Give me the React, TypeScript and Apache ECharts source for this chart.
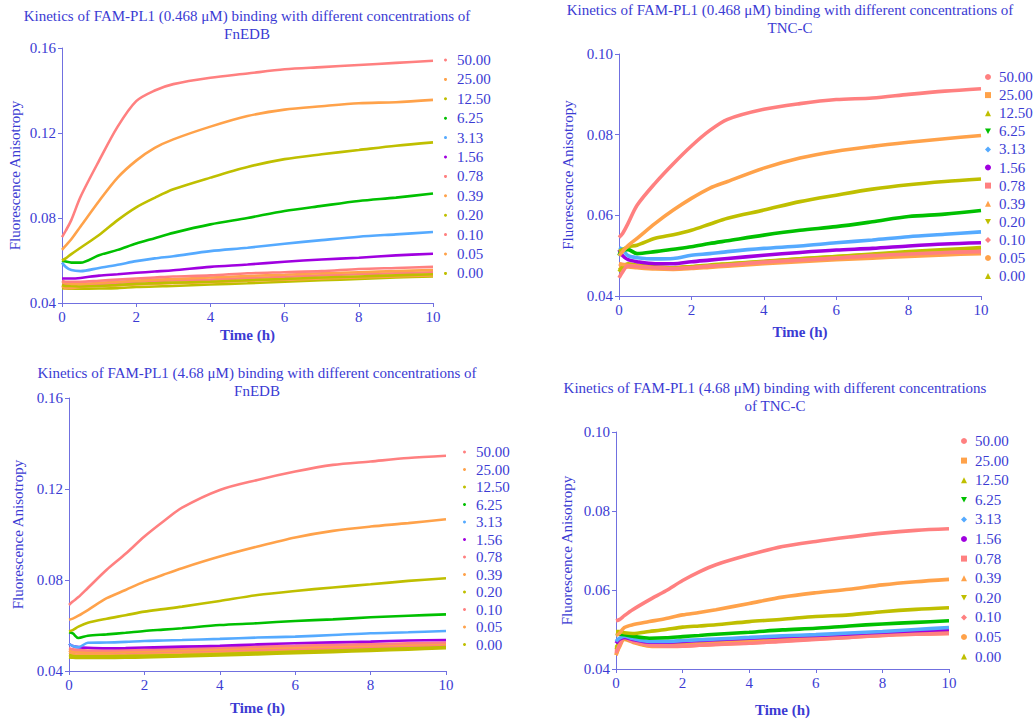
import React, { useEffect, useRef } from "react";
import * as echarts from "echarts";

// Time points (h)
const T = [0, 0.1, 0.25, 0.5, 1, 1.5, 2, 2.5, 3, 4, 5, 6, 7, 8, 9, 10];

// Concentration labels (legend)
const CONC = ["50.00", "25.00", "12.50", "6.25", "3.13", "1.56", "0.78", "0.39", "0.20", "0.10", "0.05", "0.00"];

// Panel 1: FAM-PL1 (0.468 uM) + FnEDB
const FNEDB_0468 = [
  [0.071, 0.074, 0.079, 0.090, 0.107, 0.123, 0.135, 0.140, 0.143, 0.146, 0.148, 0.150, 0.151, 0.152, 0.153, 0.154],
  [0.065, 0.067, 0.070, 0.076, 0.088, 0.099, 0.107, 0.113, 0.117, 0.123, 0.128, 0.131, 0.1326, 0.134, 0.1345, 0.1356],
  [0.060, 0.061, 0.063, 0.066, 0.072, 0.079, 0.085, 0.0895, 0.0935, 0.099, 0.104, 0.1077, 0.110, 0.112, 0.114, 0.1156],
  [0.060, 0.0595, 0.059, 0.059, 0.0625, 0.065, 0.068, 0.0705, 0.073, 0.077, 0.080, 0.0833, 0.0857, 0.088, 0.0896, 0.0915],
  [0.059, 0.057, 0.0555, 0.055, 0.0565, 0.058, 0.0597, 0.061, 0.062, 0.0644, 0.066, 0.0679, 0.0696, 0.0712, 0.0723, 0.0734],
  [0.0515, 0.0515, 0.0515, 0.0518, 0.0529, 0.0535, 0.0542, 0.0548, 0.0554, 0.057, 0.0581, 0.0594, 0.0605, 0.0613, 0.0624, 0.0632],
  [0.0505, 0.050, 0.050, 0.050, 0.0505, 0.051, 0.0515, 0.052, 0.0525, 0.053, 0.054, 0.0545, 0.055, 0.056, 0.0565, 0.057],
  [0.050, 0.0495, 0.049, 0.049, 0.0495, 0.050, 0.0505, 0.051, 0.0513, 0.052, 0.0527, 0.0533, 0.054, 0.0545, 0.055, 0.0555],
  [0.0485, 0.048, 0.048, 0.0478, 0.048, 0.0485, 0.049, 0.0493, 0.0496, 0.050, 0.0507, 0.0513, 0.052, 0.0525, 0.053, 0.0535],
  [0.049, 0.0488, 0.0487, 0.0487, 0.049, 0.0495, 0.050, 0.0503, 0.0506, 0.051, 0.0517, 0.0523, 0.053, 0.0535, 0.054, 0.0545],
  [0.048, 0.047, 0.047, 0.0475, 0.048, 0.0483, 0.0487, 0.049, 0.0493, 0.0498, 0.0505, 0.051, 0.0515, 0.052, 0.0525, 0.053],
  [0.047, 0.0468, 0.0467, 0.0467, 0.0468, 0.047, 0.0475, 0.0478, 0.048, 0.0487, 0.0493, 0.050, 0.0507, 0.0513, 0.052, 0.0525],
];

// Panel 2: FAM-PL1 (0.468 uM) + TNC-C
const TNCC_0468 = [
  [0.0545, 0.0555, 0.058, 0.0625, 0.068, 0.0728, 0.0772, 0.081, 0.0838, 0.0863, 0.0877, 0.0887, 0.0891, 0.090, 0.0908, 0.0914],
  [0.050, 0.051, 0.0525, 0.0543, 0.058, 0.0613, 0.0642, 0.0667, 0.0684, 0.0717, 0.0742, 0.0759, 0.0771, 0.0781, 0.079, 0.0798],
  [0.051, 0.0515, 0.0522, 0.0526, 0.0543, 0.0552, 0.0563, 0.0578, 0.0593, 0.0613, 0.0634, 0.065, 0.0665, 0.0676, 0.0684, 0.069],
  [0.050, 0.0515, 0.0515, 0.0505, 0.051, 0.0516, 0.0522, 0.053, 0.0537, 0.0551, 0.0563, 0.0572, 0.0584, 0.0597, 0.0603, 0.0612],
  [0.052, 0.0515, 0.050, 0.0495, 0.0492, 0.0493, 0.0501, 0.0505, 0.051, 0.0518, 0.0524, 0.0532, 0.0539, 0.0547, 0.0553, 0.0559],
  [0.0515, 0.050, 0.049, 0.0485, 0.048, 0.048, 0.0485, 0.0489, 0.0493, 0.0501, 0.0508, 0.0514, 0.0518, 0.0524, 0.0529, 0.0532],
  [0.0445, 0.046, 0.0475, 0.0473, 0.047, 0.0468, 0.047, 0.0474, 0.0477, 0.0484, 0.0489, 0.0494, 0.050, 0.0504, 0.0508, 0.051],
  [0.048, 0.0478, 0.0476, 0.0474, 0.047, 0.0468, 0.047, 0.0473, 0.0476, 0.0482, 0.0488, 0.0494, 0.0499, 0.0503, 0.0507, 0.051],
  [0.046, 0.0472, 0.048, 0.0476, 0.0472, 0.047, 0.0473, 0.0477, 0.048, 0.0486, 0.0492, 0.0498, 0.0504, 0.051, 0.0515, 0.052],
  [0.048, 0.0478, 0.0478, 0.0476, 0.0472, 0.047, 0.0472, 0.0475, 0.0478, 0.0485, 0.049, 0.0495, 0.050, 0.0505, 0.0508, 0.0512],
  [0.047, 0.047, 0.0472, 0.047, 0.0467, 0.0466, 0.0468, 0.0471, 0.0474, 0.048, 0.0485, 0.049, 0.0494, 0.0498, 0.0502, 0.0505],
  [0.0465, 0.047, 0.0475, 0.0474, 0.047, 0.0469, 0.0472, 0.0475, 0.0479, 0.0485, 0.0492, 0.0498, 0.0503, 0.0508, 0.0512, 0.0515],
];

// Panel 3: FAM-PL1 (4.68 uM) + FnEDB
const FNEDB_468 = [
  [0.069, 0.0705, 0.0725, 0.0765, 0.0845, 0.0915, 0.0991, 0.1057, 0.1118, 0.1196, 0.124, 0.1277, 0.1306, 0.1321, 0.1336, 0.1346],
  [0.0625, 0.063, 0.0643, 0.0668, 0.072, 0.0756, 0.0793, 0.0823, 0.0852, 0.0903, 0.0947, 0.0987, 0.1016, 0.1035, 0.105, 0.1067],
  [0.0575, 0.058, 0.0595, 0.0612, 0.063, 0.0645, 0.0661, 0.0672, 0.0683, 0.0708, 0.0734, 0.0752, 0.0767, 0.0781, 0.0796, 0.0808],
  [0.057, 0.0565, 0.0545, 0.0555, 0.0561, 0.0568, 0.0576, 0.0582, 0.0588, 0.0602, 0.061, 0.062, 0.0627, 0.0636, 0.0643, 0.0649],
  [0.052, 0.051, 0.0505, 0.0524, 0.0525, 0.0528, 0.0532, 0.0534, 0.0536, 0.0541, 0.0547, 0.0551, 0.0558, 0.0566, 0.057, 0.0576],
  [0.052, 0.051, 0.0505, 0.0502, 0.050, 0.0501, 0.0503, 0.0505, 0.0507, 0.0511, 0.0517, 0.0522, 0.0526, 0.0529, 0.0534, 0.0536],
  [0.050, 0.0495, 0.0492, 0.049, 0.049, 0.0492, 0.0494, 0.0496, 0.0498, 0.0502, 0.0507, 0.0511, 0.0515, 0.0518, 0.0522, 0.0525],
  [0.049, 0.0485, 0.0483, 0.0482, 0.0482, 0.0484, 0.0486, 0.0488, 0.049, 0.0495, 0.050, 0.0504, 0.0508, 0.0512, 0.0516, 0.052],
  [0.047, 0.0466, 0.0465, 0.0465, 0.0465, 0.0466, 0.0467, 0.0469, 0.047, 0.0475, 0.048, 0.0485, 0.049, 0.0495, 0.050, 0.0505],
  [0.049, 0.0485, 0.0482, 0.048, 0.048, 0.0481, 0.0483, 0.0485, 0.0487, 0.049, 0.0494, 0.0498, 0.0501, 0.0504, 0.0507, 0.051],
  [0.048, 0.0475, 0.0472, 0.0472, 0.0472, 0.0473, 0.0475, 0.0477, 0.0479, 0.0483, 0.0488, 0.0493, 0.0498, 0.0503, 0.0509, 0.0515],
  [0.046, 0.0458, 0.0457, 0.0457, 0.0457, 0.0458, 0.046, 0.0462, 0.0464, 0.0468, 0.0473, 0.0478, 0.0483, 0.0488, 0.0494, 0.050],
];

// Panel 4: FAM-PL1 (4.68 uM) + TNC-C
const TNCC_468 = [
  [0.0522, 0.0525, 0.0535, 0.055, 0.0575, 0.0598, 0.0624, 0.0646, 0.0664, 0.0689, 0.071, 0.0723, 0.0734, 0.0744, 0.0751, 0.0755],
  [0.0485, 0.049, 0.0505, 0.0512, 0.052, 0.0528, 0.0537, 0.0543, 0.055, 0.0566, 0.0582, 0.0593, 0.0602, 0.0613, 0.0621, 0.0627],
  [0.0495, 0.0495, 0.0492, 0.049, 0.0495, 0.050, 0.0506, 0.0509, 0.0512, 0.052, 0.0526, 0.0533, 0.0537, 0.0545, 0.0551, 0.0555],
  [0.049, 0.0488, 0.0487, 0.0483, 0.0478, 0.0479, 0.0482, 0.0485, 0.0488, 0.0493, 0.0499, 0.0503, 0.0509, 0.0514, 0.0518, 0.0522],
  [0.047, 0.0478, 0.0483, 0.0477, 0.047, 0.047, 0.0472, 0.0474, 0.0476, 0.048, 0.0484, 0.0487, 0.0491, 0.0495, 0.050, 0.0505],
  [0.0465, 0.0475, 0.048, 0.0475, 0.0468, 0.0468, 0.047, 0.0472, 0.0474, 0.0478, 0.0482, 0.0485, 0.0489, 0.0493, 0.0497, 0.050],
  [0.044, 0.046, 0.048, 0.047, 0.046, 0.0458, 0.0458, 0.046, 0.0462, 0.0465, 0.047, 0.0475, 0.048, 0.0485, 0.0488, 0.049],
  [0.0435, 0.0458, 0.048, 0.047, 0.046, 0.046, 0.046, 0.0462, 0.0465, 0.047, 0.0474, 0.0478, 0.0483, 0.0487, 0.0491, 0.0495],
  [0.045, 0.0465, 0.0478, 0.047, 0.046, 0.046, 0.046, 0.0462, 0.0465, 0.047, 0.0475, 0.048, 0.0485, 0.049, 0.0494, 0.0497],
  [0.0445, 0.046, 0.048, 0.0472, 0.0463, 0.0462, 0.0462, 0.0463, 0.0465, 0.0468, 0.0473, 0.0477, 0.0482, 0.0487, 0.0491, 0.0494],
  [0.0435, 0.0455, 0.0475, 0.0468, 0.0458, 0.0457, 0.0458, 0.046, 0.0462, 0.0466, 0.0471, 0.0476, 0.048, 0.0485, 0.0488, 0.049],
  [0.0455, 0.0465, 0.0478, 0.0472, 0.0462, 0.0461, 0.0461, 0.0463, 0.0465, 0.047, 0.0475, 0.0479, 0.0484, 0.0489, 0.0493, 0.0496],
];

const TITLES = [
  "Kinetics of FAM-PL1 (0.468 μM) binding with different concentrations of\nFnEDB",
  "Kinetics of FAM-PL1 (0.468 μM) binding with different concentrations of\nTNC-C",
  "Kinetics of FAM-PL1 (4.68 μM) binding with different concentrations of\nFnEDB",
  "Kinetics of FAM-PL1 (4.68 μM) binding with different concentrations\nof TNC-C",
];

const Y_RANGES = [
  [0.04, 0.16, 0.04],
  [0.04, 0.10, 0.02],
  [0.04, 0.16, 0.04],
  [0.04, 0.10, 0.02],
];

const COLORS = ["#ff8080", "#ffa24a", "#bfbf00", "#00c000", "#55aaff", "#a000e0", "#ff8080", "#ffa24a", "#bfbf00", "#ff8080", "#ffa24a", "#bfbf00"];
const DOWN_TRI = "path://M0,0L10,0L5,9Z";
const ICONS_TNC = ["circle", "rect", "triangle", DOWN_TRI, "diamond", "circle", "rect", "triangle", DOWN_TRI, "diamond", "circle", "triangle"];

const TEXT = "#3b3bd3";
const AXIS = "#7070e0";
const FONT = "Liberation Serif";

// layout per panel
const LAYOUT = [
  { grid: { left: 62, top: 48, width: 371, height: 255 }, title: { x: 247, y: 7 }, legend: { left: 444, top: 52.5, gap: 4.4, icon: 3 }, xGap: 24, yGap: 40, lw: 2.6 },
  { grid: { left: 619, top: 54, width: 362, height: 242 }, title: { x: 790, y: 1 }, legend: { left: 985, top: 69.5, gap: 3.1, icon: 6 }, xGap: 28, yGap: 44, lw: 3.6 },
  { grid: { left: 69, top: 398, width: 377, height: 273 }, title: { x: 257, y: 364 }, legend: { left: 463, top: 444.5, gap: 2.5, icon: 3 }, xGap: 29, yGap: 44, lw: 2.6 },
  { grid: { left: 616, top: 432, width: 333, height: 237 }, title: { x: 775, y: 379 }, legend: { left: 961, top: 433.5, gap: 4.6, icon: 6 }, xGap: 33, yGap: 42, lw: 3.6 },
];

const PANELS = [FNEDB_0468, TNCC_0468, FNEDB_468, TNCC_468];

function buildOption() {
  const grid: any[] = [];
  const xAxis: any[] = [];
  const yAxis: any[] = [];
  const legend: any[] = [];
  const series: any[] = [];
  const graphic: any[] = [];

  PANELS.forEach((panel, p) => {
    const L = LAYOUT[p];
    grid.push({ ...L.grid, containLabel: false });
    const axisCommon = {
      axisLine: { show: true, lineStyle: { color: AXIS, width: 1 } },
      axisTick: { show: true, length: 4, lineStyle: { color: AXIS } },
      splitLine: { show: false },
    };
    xAxis.push({
      ...axisCommon,
      type: "value",
      gridIndex: p,
      min: 0,
      max: 10,
      interval: 2,
      name: "Time (h)",
      nameLocation: "middle",
      nameGap: L.xGap,
      nameTextStyle: { color: TEXT, fontFamily: FONT, fontSize: 15, fontWeight: "bold" },
      axisLabel: { color: TEXT, fontFamily: FONT, fontSize: 15, margin: 6 },
    });
    const [ymin, ymax, yint] = Y_RANGES[p];
    yAxis.push({
      ...axisCommon,
      type: "value",
      gridIndex: p,
      min: ymin,
      max: ymax,
      interval: yint,
      name: "Fluorescence Anisotropy",
      nameLocation: "middle",
      nameRotate: 90,
      nameGap: L.yGap,
      nameTextStyle: { color: TEXT, fontFamily: FONT, fontSize: 15 },
      axisLabel: {
        color: TEXT,
        fontFamily: FONT,
        fontSize: 15,
        margin: 6,
        formatter: (v: number) => v.toFixed(2),
      },
    });

    const isTnc = p === 1 || p === 3;
    const legendData: any[] = [];
    panel.forEach((vals, i) => {
      const name = `${p}|${CONC[i]}`;
      legendData.push({ name, icon: isTnc ? ICONS_TNC[i] : "circle" });
      series.push({
        type: "line",
        name,
        xAxisIndex: p,
        yAxisIndex: p,
        data: T.map((t, k) => [t, vals[k]]),
        smooth: 0.3,
        showSymbol: false,
        symbol: isTnc ? ICONS_TNC[i] : "circle",
        color: COLORS[i],
        lineStyle: { color: COLORS[i], width: L.lw },
        silent: true,
        z: 2 + (11 - i) * 0.01,
      });
    });
    legend.push({
      orient: "vertical",
      left: L.legend.left,
      top: L.legend.top,
      itemWidth: L.legend.icon,
      itemHeight: L.legend.icon,
      itemGap: L.legend.gap,
      padding: 0,
      selectedMode: false,
      data: legendData,
      formatter: (n: string) => n.split("|")[1],
      textStyle: { color: TEXT, fontFamily: FONT, fontSize: 15, lineHeight: 15, padding: [0, 0, 0, isTnc ? 3 : 5] },
    });

    graphic.push({
      type: "text",
      x: L.title.x,
      y: L.title.y,
      style: {
        text: TITLES[p],
        fill: TEXT,
        fontFamily: FONT,
        fontSize: 15,
        textAlign: "center",
        textVerticalAlign: "top",
        lineHeight: 18,
      },
    });
  });

  return {
    animation: false,
    backgroundColor: "#ffffff",
    textStyle: { fontFamily: FONT },
    grid,
    xAxis,
    yAxis,
    legend,
    series,
    graphic,
  };
}

export default function App() {
  const ref = useRef<HTMLDivElement>(null);
  useEffect(() => {
    if (!ref.current) return;
    const chart = echarts.init(ref.current, null, { renderer: "svg" });
    chart.setOption(buildOption() as any);
    return () => chart.dispose();
  }, []);
  return (
    <div
      ref={ref}
      style={{ position: "absolute", left: 0, top: 0, width: 1034, height: 721, background: "#fff" }}
    />
  );
}
